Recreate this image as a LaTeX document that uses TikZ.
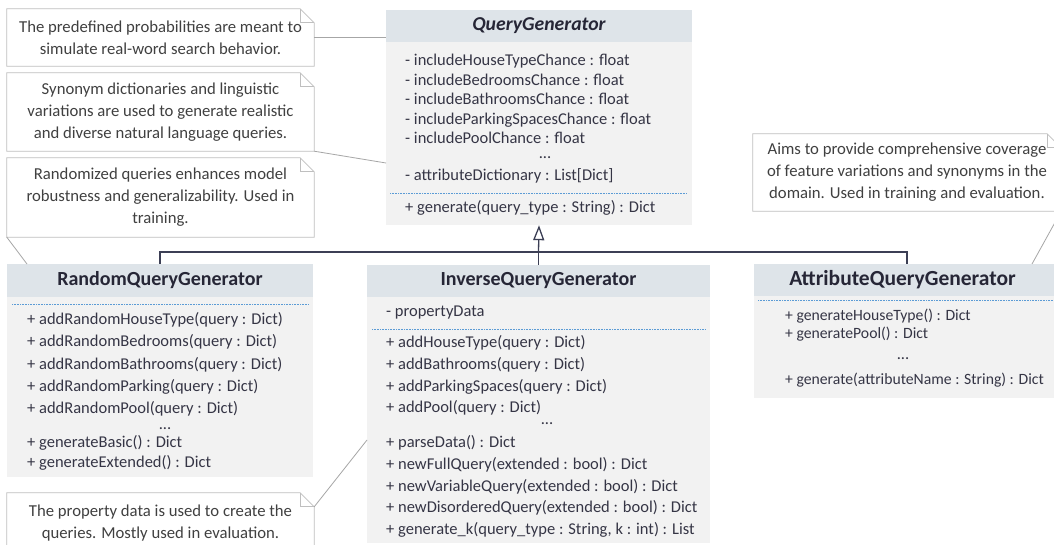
\documentclass[tikz,border=0pt]{standalone}
\usepackage{fontspec}
\setmainfont{Carlito}
\usetikzlibrary{arrows.meta,calc}
\definecolor{hdrcol}{HTML}{DEE4E9}
\definecolor{bodycol}{HTML}{F2F2F2}
\definecolor{titlecol}{HTML}{262636}
\definecolor{txtcol}{HTML}{353545}
\definecolor{notebdr}{HTML}{BFBFBF}
\definecolor{notetxt}{HTML}{404040}
\definecolor{inhcol}{HTML}{3C3F55}
\definecolor{sepcol}{HTML}{5B9BD5}
\definecolor{linkcol}{HTML}{A6A6A6}
\newcommand\dogear[1]{%
  \draw[notebdr, line width=0.8pt] (#1.north west) -- ([xshift=-14pt]#1.north east) -- ([yshift=-14pt]#1.north east) -- (#1.south east) -- (#1.south west) -- cycle;
  \draw[notebdr, line width=0.8pt] ([xshift=-14pt]#1.north east) -- ([xshift=-14pt,yshift=-14pt]#1.north east) -- ([yshift=-14pt]#1.north east);}
\tikzset{
  body/.style={fill=bodycol, draw=none, inner sep=0pt},
  hdr/.style={fill=hdrcol, draw=none, inner sep=0pt, anchor=north},
  title/.style={text=titlecol, font=\bfseries\fontsize{20}{22}\selectfont, inner sep=0pt},
  txt/.style={text=txtcol, font=\fontsize{16.5}{19}\selectfont, anchor=west, inner sep=0pt, text height=11.5pt, text depth=4pt},
  stxt/.style={txt, font=\fontsize{15.7}{18}\selectfont},
  dots/.style={text=txtcol, font=\fontsize{16.5}{19}\selectfont, inner sep=0pt, anchor=base, text height=3pt, text depth=0pt},
  sep/.style={sepcol, line width=0.6pt, dash pattern=on 0.8pt off 0.8pt},
  note/.style={text=notetxt, font=\fontsize{16.7}{22}\selectfont, align=center, inner sep=0pt, minimum width=307pt},
  link/.style={linkcol, line width=0.8pt},
  inh/.style={inhcol, line width=1.3pt},
}
\begin{document}
\begin{tikzpicture}[x=1pt,y=-1pt]
\clip (0,0) rectangle (1054,545);
\fill[white] (0,0) rectangle (1054,545);

% ---------- QueryGenerator
\node[body, minimum width=306pt, minimum height=215pt] (qg) at (539,117.5) {};
\node[hdr, minimum width=306pt, minimum height=32pt] (qgh) at (qg.north) {};
\node[title, font=\bfseries\itshape\fontsize{19.7}{22}\selectfont] (qgt) at (qgh.center) {QueryGenerator};
\node[txt] (qg1) at (405,62) {- includeHouseTypeChance : float};
\node[txt] (qg2) at (405,81.5) {- includeBedroomsChance : float};
\node[txt] (qg3) at (405,101) {- includeBathroomsChance : float};
\node[txt] (qg4) at (405,120.5) {- includeParkingSpacesChance : float};
\node[txt] (qg5) at (405,140) {- includePoolChance : float};
\node[dots] (qg6) at (545,159) {...};
\node[txt] (qg7) at (405,177) {- attributeDictionary : List[Dict]};
\draw[sep] (390,193) -- (687,193);
\node[txt] (qg8) at (405,209) {+ generate(query\_type : String) : Dict};

% ---------- RandomQueryGenerator
\node[body, minimum width=306pt, minimum height=213pt] (rqg) at (160,370.5) {};
\node[hdr, minimum width=306pt, minimum height=33pt] (rqgh) at (rqg.north) {};
\node[title] (rqgt) at (rqgh.center) {RandomQueryGenerator};
\draw[sep] (12,304) -- (309,304);
\node[txt] (r1) at (27,321) {+ addRandomHouseType(query : Dict)};
\node[txt] (r2) at (27,343) {+ addRandomBedrooms(query : Dict)};
\node[txt] (r3) at (27,365.5) {+ addRandomBathrooms(query : Dict)};
\node[txt] (r4) at (27,388) {+ addRandomParking(query : Dict)};
\node[txt] (r5) at (27,410) {+ addRandomPool(query : Dict)};
\node[dots] (r6) at (165,429.5) {...};
\node[txt] (r7) at (27,444) {+ generateBasic() : Dict};
\node[txt] (r8) at (27,464) {+ generateExtended() : Dict};

% ---------- InverseQueryGenerator
\node[body, minimum width=343pt, minimum height=278pt] (iqg) at (538.5,404) {};
\node[hdr, minimum width=343pt, minimum height=32pt] (iqgh) at (iqg.north) {};
\node[title] (iqgt) at (iqgh.center) {InverseQueryGenerator};
\node[txt] (i0) at (386,313) {- propertyData};
\draw[sep] (372,329) -- (705,329);
\node[txt] (i1) at (386,344) {+ addHouseType(query : Dict)};
\node[txt] (i2) at (386,366) {+ addBathrooms(query : Dict)};
\node[txt] (i3) at (386,387.5) {+ addParkingSpaces(query : Dict)};
\node[txt] (i4) at (386,409) {+ addPool(query : Dict)};
\node[dots] (i5) at (547,424) {...};
\node[txt] (i6) at (386,444) {+ parseData() : Dict};
\node[txt] (i7) at (386,466) {+ newFullQuery(extended : bool) : Dict};
\node[txt] (i8) at (386,487.5) {+ newVariableQuery(extended : bool) : Dict};
\node[txt] (i9) at (386,509) {+ newDisorderedQuery(extended : bool) : Dict};
\node[txt] (i10) at (386,531) {+ generate\_k(query\_type : String, k : int) : List};

% ---------- AttributeQueryGenerator
\node[body, minimum width=310pt, minimum height=134pt] (aqg) at (909,331) {};
\node[hdr, minimum width=310pt, minimum height=32pt] (aqgh) at (aqg.north) {};
\node[title, font=\bfseries\fontsize{21.5}{23}\selectfont] (aqgt) at ($(aqgh.center)+(-6.5,0)$) {AttributeQueryGenerator};
\draw[sep] (758,300) -- (1054,300);
\node[stxt] (a1) at (785,317) {+ generateHouseType() : Dict};
\node[stxt] (a2) at (785,335) {+ generatePool() : Dict};
\node[dots] (a3) at (903,359) {...};
\node[stxt] (a4) at (785,381) {+ generate(attributeName : String) : Dict};

% ---------- notes
\node[note, minimum height=57pt] (n1) at (160.5,37.5) {The predefined probabilities are meant to\\simulate real-word search behavior.};
\dogear{n1}
\node[note, minimum height=78pt] (n2) at (160.5,112) {Synonym dictionaries and linguistic\\variations are used to generate realistic\\and diverse natural language queries.};
\dogear{n2}
\node[note, minimum height=79pt] (n3) at (160.5,197.5) {Randomized queries enhances model\\robustness and generalizability. Used in\\training.};
\dogear{n3}
\node[note, minimum width=308pt, minimum height=77pt] (n4) at (907,172.5) {Aims to provide comprehensive coverage\\of feature variations and synonyms in the\\domain. Used in training and evaluation.};
\dogear{n4}
\node[note, minimum height=60pt] (n5) at (160.5,523) {The property data is used to create the\\queries. Mostly used in evaluation.};
\dogear{n5}

% ---------- note links
\coordinate (qgp2) at (386,163);
\coordinate (rqgp) at (27,264);
\coordinate (aqgp) at (1032,264);
\coordinate (iqgp) at (367,440);
\draw[link] (n1.east) -- (n1.east -| qg.west);
\draw[link] (n2.south east) -- (qgp2);
\draw[link] (n3.south west) -- (rqgp);
\draw[link] (n4.south east) -- (aqgp);
\draw[link] ([yshift=-14pt]n5.north east) -- (iqgp);

% ---------- inheritance
\coordinate (hl) at (160,252);
\coordinate (hr) at (907,252);
\draw[inh] (rqg.north -| hl) -- (hl) -- (hr) -- (aqg.north -| hr);
\draw[inh] (iqg.north) -- (iqg.north |- hl);
\draw[inh, -{Triangle[open, length=15pt, width=11pt, line width=1.3pt]}] (iqg.north |- hl) -- (qg.south);
\end{tikzpicture}
\end{document}
